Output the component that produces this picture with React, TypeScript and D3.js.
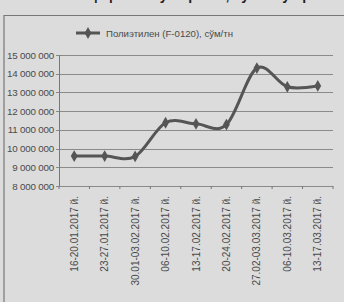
import React, { useRef, useEffect } from 'react';
import * as d3 from 'd3';

const categories = [
  '16-20.01.2017 й.',
  '23-27.01.2017 й.',
  '30.01-03.02.2017 й.',
  '06-10.02.2017 й.',
  '13-17.02.2017 й.',
  '20-24.02.2017 й.',
  '27.02-03.03.2017 й.',
  '06-10.03.2017 й.',
  '13-17.03.2017 й.',
];
const prices = [9600000, 9600000, 9580000, 11380000, 11320000, 11280000, 14300000, 13300000, 13350000];
const yTicks = [8000000, 9000000, 10000000, 11000000, 12000000, 13000000, 14000000, 15000000];
const seriesName = 'Полиэтилен (F-0120), сўм/тн';

const App = () => {
  const ref = useRef<SVGSVGElement>(null);

  useEffect(() => {
    const svg = d3.select(ref.current);
    svg.selectAll('*').remove();
    const W = 344, H = 302;
    const left = 59, right = 333, top = 55, bottom = 186;
    const ink = '#4a4a4a';
    const font = 'Liberation Sans, Arial, sans-serif';

    svg.append('rect').attr('width', W).attr('height', H).attr('fill', '#dcdcdc');

    // heading of the page, mostly cut off above the crop
    svg.append('text')
      .attr('x', 200).attr('y', 0)
      .attr('text-anchor', 'middle')
      .attr('font-family', font).attr('font-weight', 'bold').attr('font-size', 14)
      .attr('fill', '#222')
      .text('ҳафталик ўзгариши, сум/тн у пр');

    // frame
    svg.append('path')
      .attr('d', `M4,${H} V15.5 H${W}`)
      .attr('fill', 'none').attr('stroke', '#777').attr('stroke-width', 1.2);

    const x = d3.scaleBand().domain(categories).range([left, right]);
    const y = d3.scaleLinear().domain([8000000, 15000000]).range([bottom, top]);

    const fmt = (v: number) => d3.format(',')(v).replace(/,/g, ' ');

    // gridlines
    svg.append('g').selectAll('line').data(yTicks).enter().append('line')
      .attr('x1', left - 3).attr('x2', right)
      .attr('y1', (d) => Math.round(y(d)) + 0.5).attr('y2', (d) => Math.round(y(d)) + 0.5)
      .attr('stroke', '#8a8a8a').attr('stroke-width', 1);

    // y axis
    svg.append('line')
      .attr('x1', left + 0.5).attr('x2', left + 0.5).attr('y1', top).attr('y2', bottom)
      .attr('stroke', '#777');
    svg.append('g').selectAll('text').data(yTicks).enter().append('text')
      .attr('x', left - 5).attr('y', (d) => y(d) + 3.5)
      .attr('text-anchor', 'end')
      .attr('font-family', font).attr('font-size', 9.8).attr('letter-spacing', -0.2)
      .attr('fill', ink)
      .text(fmt);

    // x ticks
    const bounds = categories.map((c) => x(c) as number).concat([right]);
    svg.append('g').selectAll('line').data(bounds).enter().append('line')
      .attr('x1', (d) => d).attr('x2', (d) => d)
      .attr('y1', bottom).attr('y2', bottom + 3)
      .attr('stroke', '#777');

    // x labels
    svg.append('g').selectAll('text').data(categories).enter().append('text')
      .attr('transform', (d) => `translate(${(x(d) as number) + x.bandwidth() / 2 + 3.5},${bottom + 10}) rotate(-90)`)
      .attr('text-anchor', 'end')
      .attr('font-family', font).attr('font-size', 10)
      .attr('fill', ink)
      .text((d) => d);

    // series
    const line = d3.line<number>()
      .x((_, i) => (x(categories[i]) as number) + x.bandwidth() / 2)
      .y((d) => y(d))
      .curve(d3.curveCardinal.tension(0));
    svg.append('path')
      .datum(prices)
      .attr('d', line)
      .attr('fill', 'none').attr('stroke', '#555').attr('stroke-width', 3)
      .attr('stroke-linejoin', 'round');

    const diamond = d3.symbol().type(d3.symbolDiamond).size(40);
    svg.append('g').selectAll('path').data(prices).enter().append('path')
      .attr('transform', (d, i) => `translate(${(x(categories[i]) as number) + x.bandwidth() / 2},${y(d)})`)
      .attr('d', diamond)
      .attr('fill', '#555');

    // legend
    const lg = svg.append('g').attr('transform', 'translate(76,33)');
    lg.append('line').attr('x1', 0).attr('x2', 24).attr('stroke', '#555').attr('stroke-width', 3);
    lg.append('path').attr('transform', 'translate(12,0)').attr('d', diamond).attr('fill', '#555');
    lg.append('text')
      .attr('x', 30).attr('y', 3.5)
      .attr('font-family', font).attr('font-size', 9.6)
      .attr('fill', ink)
      .text(seriesName);
  }, []);

  return <svg ref={ref} width={344} height={302} style={{ position: 'absolute', left: 0, top: 0 }} />;
};

export default App;
